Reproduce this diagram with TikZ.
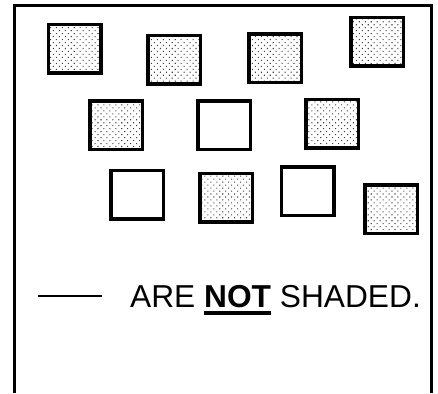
\documentclass[tikz,border=0pt]{standalone}
\usepackage{fontspec}
\setmainfont{Liberation Sans}
\usepackage{tikz}
\usetikzlibrary{patterns.meta, positioning}
\tikzset{every node/.style={font=\rmfamily}}
\newcommand{\thickul}[1]{\setbox0\hbox{#1}\rlap{\rule[-6.8pt]{\wd0}{3.2pt}}\box0\relax}

\begin{document}
\begin{tikzpicture}[x=1pt, y=-1pt,
    plainsq/.style={draw, line width=3.5pt, fill=white, minimum width=52.5pt, minimum height=48.5pt, inner sep=0pt},
    shadedsq/.style={plainsq, pattern={Dots[distance=4.2pt, angle=45, radius=0.75pt]}, pattern color=black!75}]
    \useasboundingbox (0,0) rectangle (438,393);
    % open frame
    \draw[line width=3.5pt] (14.5,393) -- (14.5,5.5) -- (431.5,5.5) -- (431.5,393);
    % top row
    \node[shadedsq] (sq1) at (74.5,49) {};
    \node[shadedsq] (sq2) at (174,60) {};
    \node[shadedsq] (sq3) at (275,58.5) {};
    \node[shadedsq] (sq4) at (377,42) {};
    % middle row
    \node[shadedsq] (sq5) at (116,125) {};
    \node[plainsq] (sq6) at (224,125) {};
    \node[shadedsq] (sq7) at (332,123.5) {};
    % bottom row
    \node[plainsq] (sq8) at (137,194.5) {};
    \node[shadedsq] (sq9) at (226,197.5) {};
    \node[plainsq] (sq10) at (307.5,191) {};
    \node[shadedsq] (sq11) at (391,209) {};
    % blank and sentence
    \coordinate (blankl) at (38,296);
    \coordinate (blankr) at (102,296);
    \draw[line width=1.3pt] (blankl) -- (blankr);
    \node[anchor=base west, inner sep=0pt, font=\fontsize{31.7}{32}\selectfont] (sentence) at (130,307.7) {ARE \thickul{\textbf{NOT}} SHADED.};
\end{tikzpicture}
\end{document}
